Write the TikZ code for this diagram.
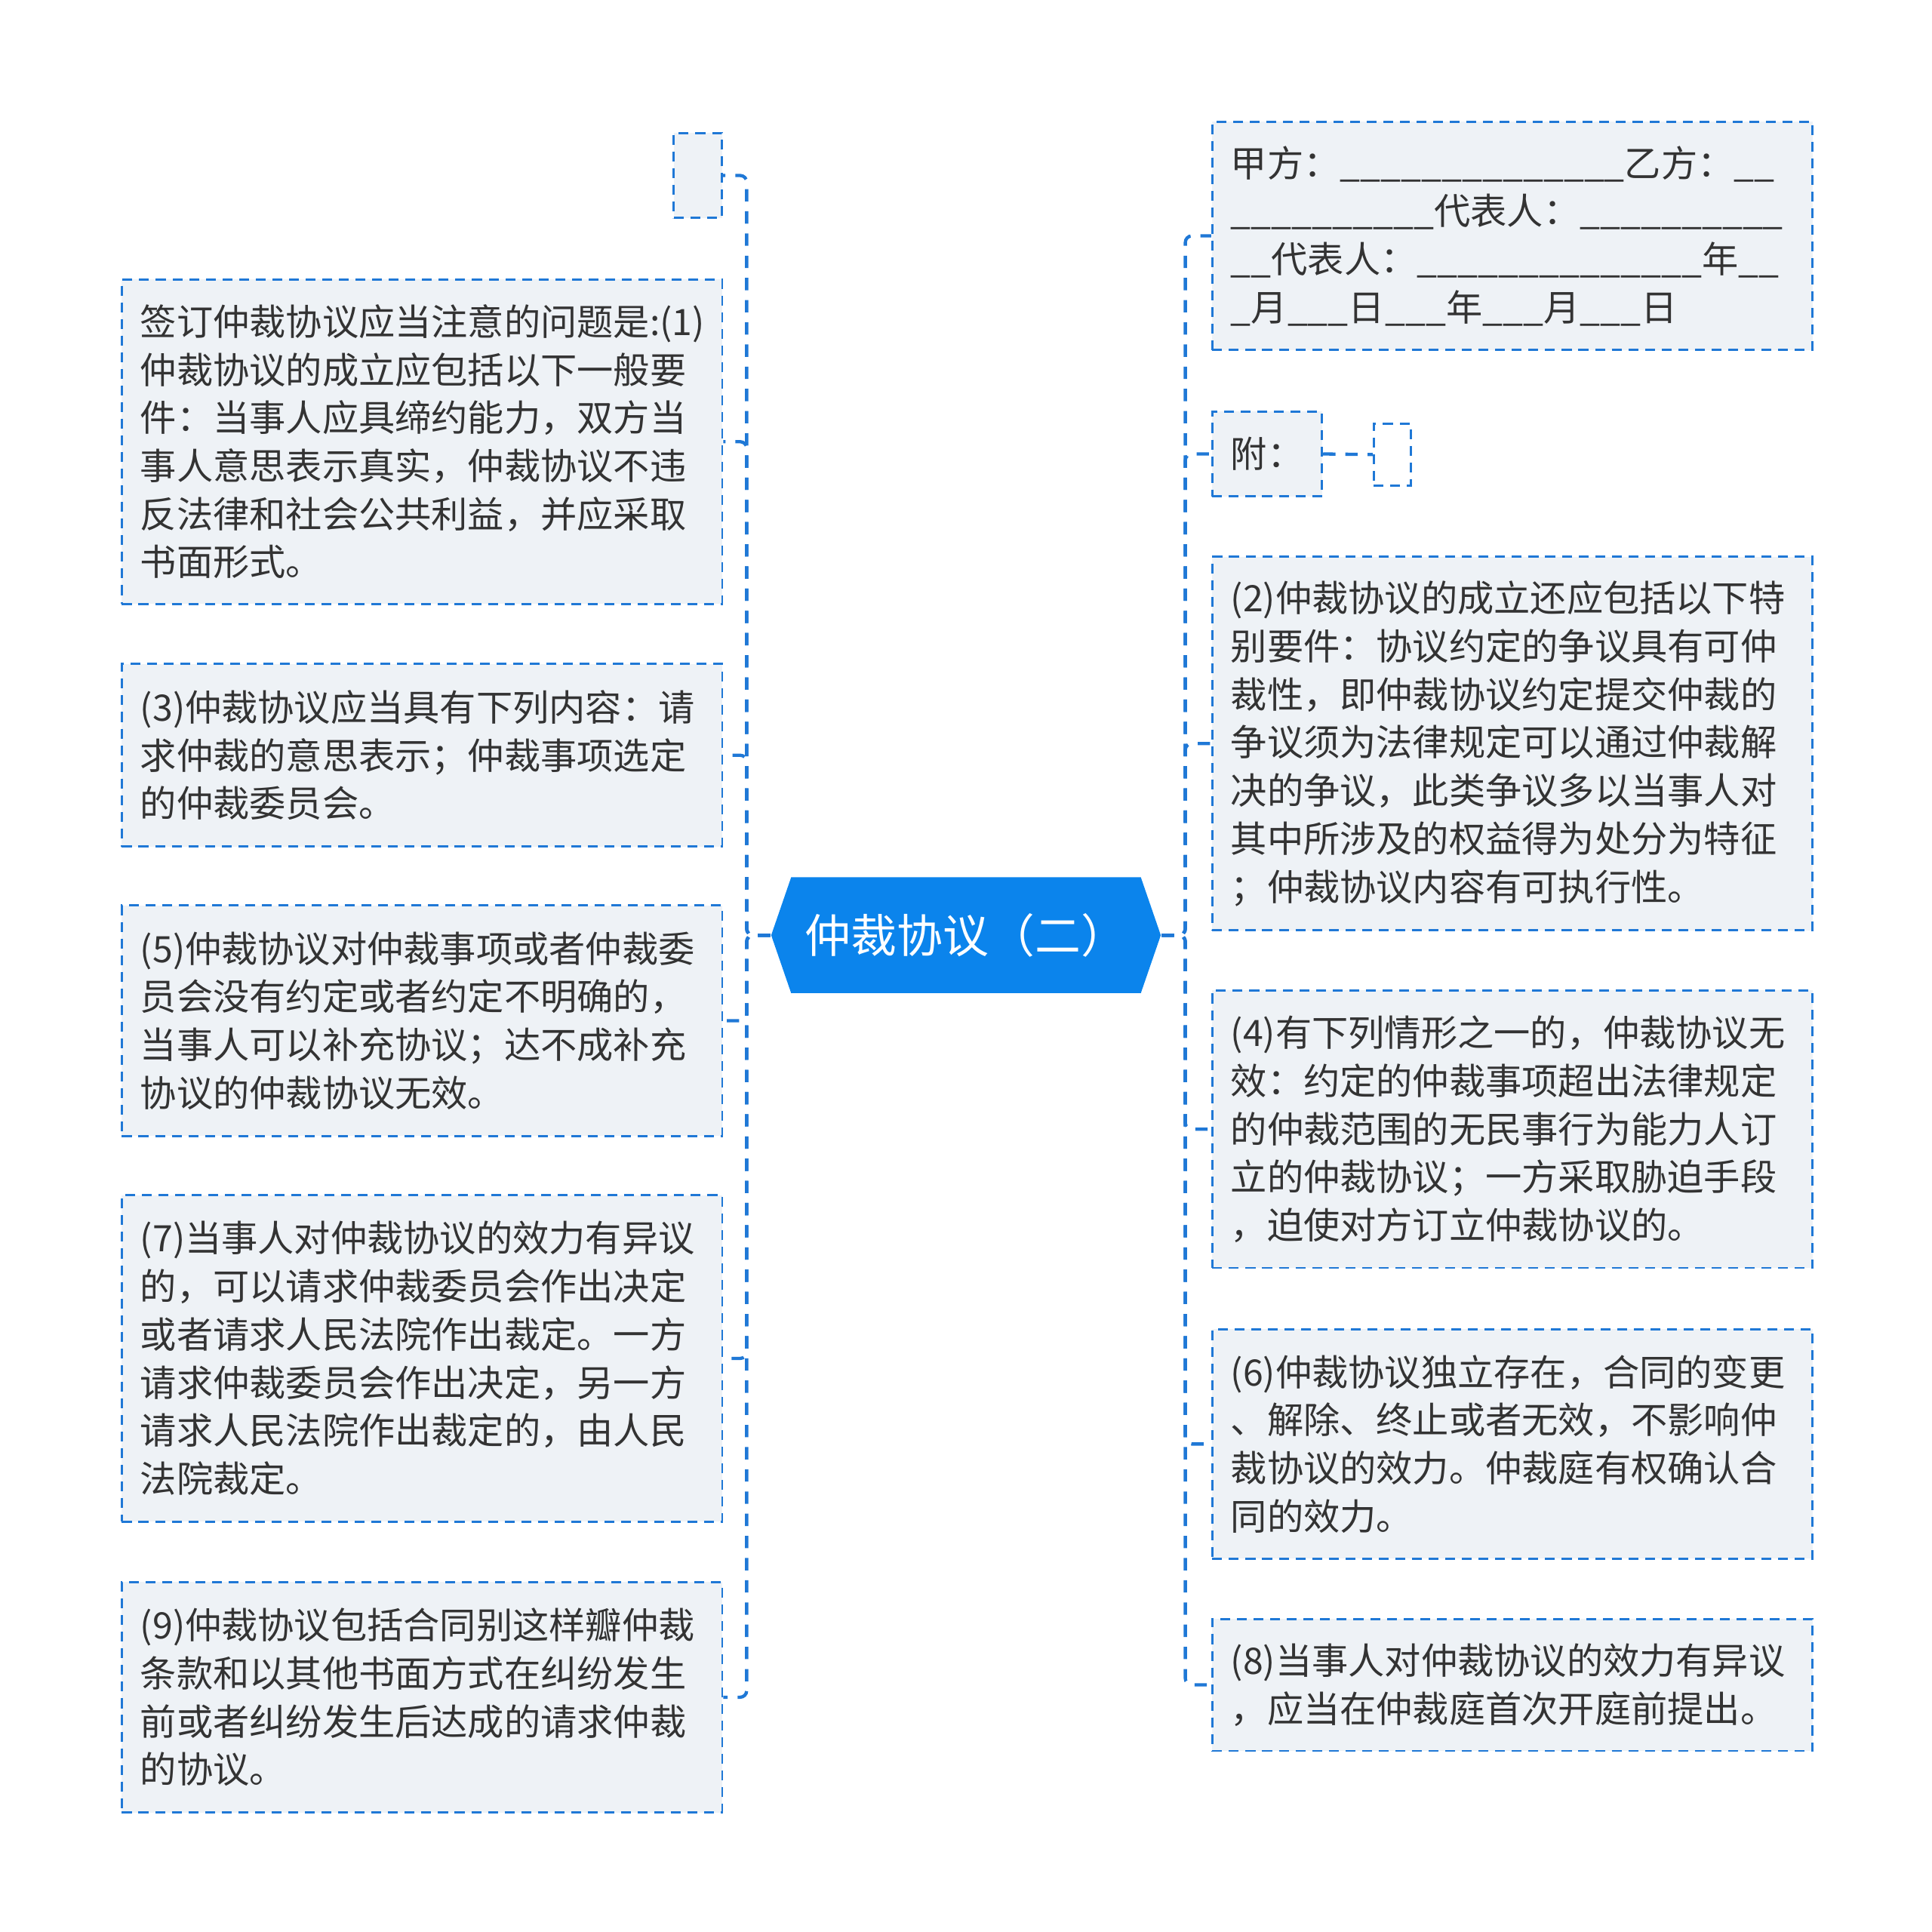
\documentclass[tikz,border=0pt]{standalone}
\usepackage{fontspec}
\newfontfamily\cjk{Noto Sans CJK SC}
\usetikzlibrary{shapes.symbols}
\definecolor{rootblue}{HTML}{0B84EC}
\definecolor{linkblue}{HTML}{1F78D6}
\definecolor{leaffill}{HTML}{EEF2F6}
\definecolor{leaftext}{HTML}{333333}
\tikzset{
  leaf/.style={draw=linkblue, line width=0.5pt, dash pattern=on 0.08cm off 0.055cm,
    fill=leaffill, text=leaftext, font={\cjk\fontsize{8.4}{11.1}\selectfont},
    align=left, text width=4.57cm, inner xsep=0.15cm, inner ysep=0pt, anchor=north west},
  blank/.style={draw=linkblue, line width=0.5pt, dash pattern=on 0.08cm off 0.055cm,
    anchor=north west, inner sep=0pt},
  link/.style={draw=linkblue, line width=0.75pt, dash pattern=on 0.1cm off 0.08cm,
    rounded corners=1.5pt},
  root/.style={signal, signal to=west and east, signal pointer angle=142,
    fill=rootblue, text=white, font={\cjk\fontsize{10.6}{13}\selectfont},
    minimum width=3.16cm, minimum height=0.94cm, inner sep=0pt}
}
\newcommand{\blanks}[1]{\foreach \k in {1,...,#1}{\_}}
\begin{document}
\begin{tikzpicture}[x=0.01cm, y=-0.01cm]
  \useasboundingbox (0,0) rectangle (1568,1568);
  % Central topic
  \node[root] (root) at (784,759) {仲裁协议（二）};
  % Branch buses
  \coordinate (lbus) at (606,759);
  \coordinate (rbus) at (962,759);
  % Left branches
  \node[blank, fill=leaffill, minimum width=0.39cm, minimum height=0.69cm] (l0) at (546,107) {};
  \node[leaf, minimum height=2.63cm] (l1) at (98,226)
    {签订仲裁协议应当注意的问题是:(1)\\仲裁协议的成立应包括以下一般要\\件：当事人应具缔约能力，双方当\\事人意思表示真实，仲裁协议不违\\反法律和社会公共利益，并应采取\\书面形式。};
  \node[leaf, minimum height=1.48cm] (l2) at (98,538)
    {(3)仲裁协议应当具有下列内容：请\\求仲裁的意思表示；仲裁事项选定\\的仲裁委员会。};
  \node[leaf, minimum height=1.87cm] (l3) at (98,734)
    {(5)仲裁协议对仲裁事项或者仲裁委\\员会没有约定或者约定不明确的，\\当事人可以补充协议；达不成补充\\协议的仲裁协议无效。};
  \node[leaf, minimum height=2.65cm] (l4) at (98,969)
    {(7)当事人对仲裁协议的效力有异议\\的，可以请求仲裁委员会作出决定\\或者请求人民法院作出裁定。一方\\请求仲裁委员会作出决定，另一方\\请求人民法院作出裁定的，由人民\\法院裁定。};
  \node[leaf, minimum height=1.87cm] (l5) at (98,1283)
    {(9)仲裁协议包括合同别这样瓣仲裁\\条款和以其他书面方式在纠纷发生\\前或者纠纷发生后达成的请求仲裁\\的协议。};
  % Right branches
  \node[leaf, minimum height=1.85cm] (r0) at (983,98)
    {甲方：\blanks{14}乙方：\blanks{2}\\\blanks{10}代表人：\blanks{10}\\\blanks{2}代表人：\blanks{14}年\blanks{2}\\\blanks{1}月\blanks{3}日\blanks{3}年\blanks{3}月\blanks{3}日};
  \node[leaf, text width=, minimum width=0.89cm, minimum height=0.69cm] (r1) at (983,333) {附：};
  \node[blank, minimum width=0.30cm, minimum height=0.50cm] (r1a) at (1114,343) {};
  \node[leaf, minimum height=3.03cm] (r2) at (983,451)
    {(2)仲裁协议的成立还应包括以下特\\别要件：协议约定的争议具有可仲\\裁性，即仲裁协议约定提交仲裁的\\争议须为法律规定可以通过仲裁解\\决的争议，此类争议多以当事人对\\其中所涉及的权益得为处分为特征\\；仲裁协议内容有可执行性。};
  \node[leaf, minimum height=2.25cm] (r3) at (983,803)
    {(4)有下列情形之一的，仲裁协议无\\效：约定的仲裁事项超出法律规定\\的仲裁范围的无民事行为能力人订\\立的仲裁协议；一方采取胁迫手段\\，迫使对方订立仲裁协议的。};
  \node[leaf, minimum height=1.86cm] (r4) at (983,1078)
    {(6)仲裁协议独立存在，合同的变更\\、解除、终止或者无效，不影响仲\\裁协议的效力。仲裁庭有权确认合\\同的效力。};
  \node[leaf, minimum height=1.07cm] (r5) at (983,1313)
    {(8)当事人对仲裁协议的效力有异议\\，应当在仲裁庭首次开庭前提出。};
  % Connectors
  \foreach \leafname in {l0,l1,l2,l3,l4,l5}
    \draw[link] (root.west) -- (lbus) |- (\leafname.east);
  \foreach \leafname in {r0,r1,r2,r3,r4,r5}
    \draw[link] (root.east) -- (rbus) |- (\leafname.west);
  \draw[link] (r1.east) -- (r1a.west);
\end{tikzpicture}
\end{document}
